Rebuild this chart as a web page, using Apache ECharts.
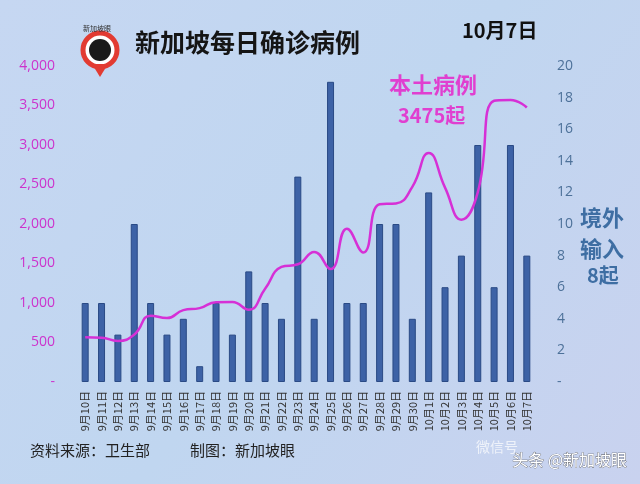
<!DOCTYPE html>
<html><head><meta charset="utf-8">
<script src="https://cdn.jsdelivr.net/npm/echarts@6/dist/echarts.min.js"></script>
<style>html,body{margin:0;padding:0;}#c{width:640px;height:484px;}</style>
</head><body><div id="c"></div>
<script>
const categories = ['9月10日','9月11日','9月12日','9月13日','9月14日','9月15日','9月16日','9月17日','9月18日','9月19日','9月20日','9月21日','9月22日','9月23日','9月24日','9月25日','9月26日','9月27日','9月28日','9月29日','9月30日','10月1日','10月2日','10月3日','10月4日','10月5日','10月6日','10月7日'];
const localCases = [566, 560, 520, 600, 840, 810, 910, 935, 1010, 1012, 915, 1180, 1456, 1490, 1646, 1430, 1940, 1640, 2250, 2260, 2470, 2900, 2460, 2055, 2400, 3560, 3570, 3475];
const importedCases = [5, 5, 3, 10, 5, 3, 4, 1, 5, 3, 7, 5, 4, 13, 4, 19, 5, 5, 10, 10, 4, 12, 6, 8, 15, 6, 15, 8];
const leftTicks = { min: 0, max: 4000, interval: 500 };
const rightTicks = { min: 0, max: 20, interval: 2 };

const chart = echarts.init(document.getElementById('c'), null, { renderer: 'canvas' });
const cjk = '"Noto Sans CJK SC", "Noto Sans", sans-serif';
chart.setOption({
  backgroundColor: {
    type: 'linear', x: 0, y: 0, x2: 1, y2: 1,
    colorStops: [
      { offset: 0, color: '#c6d7f2' },
      { offset: 0.5, color: '#c0d6f0' },
      { offset: 1, color: '#c9d2ef' }
    ]
  },
  animation: false,
  grid: { left: 77, right: 105, top: 66, bottom: 102 },
  xAxis: {
    type: 'category', data: categories,
    axisLine: { show: false }, axisTick: { show: false },
    axisLabel: { rotate: 90, interval: 0, fontSize: 11, color: '#333', fontFamily: cjk, margin: 9 }
  },
  yAxis: [
    {
      type: 'value', min: leftTicks.min, max: leftTicks.max, interval: leftTicks.interval,
      splitLine: { show: false }, axisLine: { show: false }, axisTick: { show: false },
      axisLabel: {
        color: '#cc33cc', fontSize: 14, fontFamily: '"Open Sans", "Noto Sans", sans-serif', margin: 22,
        formatter: v => v === 0 ? '-' : v.toLocaleString('en-US')
      }
    },
    {
      type: 'value', min: rightTicks.min, max: rightTicks.max, interval: rightTicks.interval,
      splitLine: { show: false }, axisLine: { show: false }, axisTick: { show: false },
      axisLabel: {
        color: '#4d7199', fontSize: 14, fontFamily: '"Open Sans", "Noto Sans", sans-serif', margin: 22,
        align: 'left',
        formatter: v => v === 0 ? '-' : String(v)
      }
    }
  ],
  series: [
    {
      type: 'bar', yAxisIndex: 1, data: importedCases, barWidth: 7,
      itemStyle: { color: '#3d62a6', borderColor: '#2a4a85', borderWidth: 1 }
    },
    {
      type: 'line', yAxisIndex: 0, data: localCases, smooth: 0.5, symbol: 'none',
      lineStyle: { color: '#d630d6', width: 2.5 }
    }
  ],
  graphic: [
    { type: 'circle', shape: { cx: 100, cy: 50, r: 17 }, style: { fill: '#fff', stroke: '#e23b32', lineWidth: 5 } },
    { type: 'polygon', shape: { points: [[92, 64], [108, 64], [100, 77]] }, style: { fill: '#e23b32' } },
    { type: 'circle', shape: { cx: 100, cy: 50, r: 11 }, style: { fill: '#1a1a1a' } },
    { type: 'text', left: 83, top: 25, style: { text: '新加坡眼', font: '7px ' + cjk, fill: '#333' } },
    { type: 'text', left: 135, top: 30, style: { text: '新加坡每日确诊病例', font: 'bold 25px ' + cjk, fill: '#151515' } },
    { type: 'text', left: 462, top: 20, style: { text: '10月7日', font: 'bold 20px ' + cjk, fill: '#111' } },
    { type: 'text', left: 389, top: 74, style: { text: '本土病例', font: 'bold 22px ' + cjk, fill: '#e03fd0' } },
    { type: 'text', left: 398, top: 105, style: { text: '3475起', font: 'bold 20px ' + cjk, fill: '#e03fd0' } },
    { type: 'text', left: 580, top: 202, style: { text: '境外\n输入', font: 'bold 22px ' + cjk, fill: '#3e6ea3', lineHeight: 31 } },
    { type: 'text', left: 587, top: 265, style: { text: '8起', font: 'bold 20px ' + cjk, fill: '#3e6ea3' } },
    { type: 'text', left: 30, top: 443, style: { text: '资料来源：卫生部', font: '15px ' + cjk, fill: '#222' } },
    { type: 'text', left: 190, top: 443, style: { text: '制图：新加坡眼', font: '15px ' + cjk, fill: '#222' } },
    { type: 'text', left: 476, top: 440, style: { text: '微信号', font: '14px ' + cjk, fill: '#eef2fa' } },
    { type: 'text', left: 512, top: 452, style: { text: '头条 @新加坡眼', font: '16px ' + cjk, fill: '#ffffff', stroke: '#555', lineWidth: 0.6 } }
  ]
});
</script></body></html>
